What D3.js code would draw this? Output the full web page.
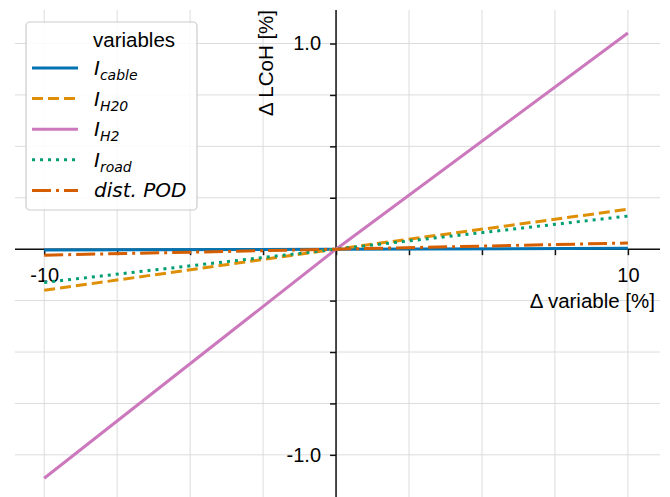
<!DOCTYPE html>
<html>
<head>
<meta charset="utf-8">
<script src="https://cdn.jsdelivr.net/npm/d3@7"></script>
<style>
  body { margin: 0; background: #fff; }
  svg text { font-family: "Liberation Sans", Arial, sans-serif; fill: #000; }
</style>
</head>
<body>
<div id="chart"></div>
<script>
// data
const xValues = [-10, 0, 10];
const seriesNames = ["cable", "H20", "H2", "road", "dist. POD"];
const cableValues = [-0.004, 0, 0.004];
const h20Values = [-0.2, 0, 0.194];
const h2Values = [-1.114, 0, 1.051];
const roadValues = [-0.162, 0, 0.161];
const podValues = [-0.029, 0, 0.03];
const xTicks = [-10, -7.5, -5, -2.5, 0, 2.5, 5, 7.5, 10];
const yTicks = [-1, -0.75, -0.5, -0.25, 0, 0.25, 0.5, 0.75, 1];
const xTickLabels = { "-10": "-10", "10": "10" };
const yTickLabels = { "-1": "-1.0", "1": "1.0" };

const W = 670, H = 497;
const colors = ["#0173b2", "#de8f05", "#cc78bc", "#029e73", "#d55e00"];
const dashes = [null, "11,5", null, "3,5", "19,5,3,5"];
const allValues = [cableValues, h20Values, h2Values, roadValues, podValues];

const svg = d3.select("#chart").append("svg")
  .attr("width", W).attr("height", H);

const x = d3.scaleLinear().domain([-11, 11.1]).range([15, 660]);
const y = d3.scaleLinear().domain([-1.205, 1.163]).range([497, 10]);

// grid
const grid = svg.append("g").attr("stroke", "#dcdcdc").attr("stroke-width", 1);
grid.selectAll("line.v").data(xTicks).enter().append("line")
  .attr("x1", d => x(d)).attr("x2", d => x(d))
  .attr("y1", y.range()[1]).attr("y2", y.range()[0]);
grid.selectAll("line.h").data(yTicks).enter().append("line")
  .attr("y1", d => y(d)).attr("y2", d => y(d))
  .attr("x1", x.range()[0]).attr("x2", x.range()[1]);

// axes through the origin
const xAxis = d3.axisBottom(x).tickValues(xTicks).tickSize(6).tickPadding(8)
  .tickFormat(d => xTickLabels[d] || "");
const yAxis = d3.axisLeft(y).tickValues(yTicks).tickSize(6).tickPadding(9)
  .tickFormat(d => yTickLabels[d] || "");

const xg = svg.append("g").attr("transform", `translate(0,${y(0)})`).call(xAxis);
const yg = svg.append("g").attr("transform", `translate(${x(0)},0)`).call(yAxis);
[xg, yg].forEach(g => {
  g.select(".domain").attr("stroke", "#111").attr("stroke-width", 1.5);
  g.selectAll(".tick line").attr("stroke", "#111").attr("stroke-width", 1.5);
  g.selectAll(".tick text").attr("font-size", 20).attr("font-family", "Liberation Sans, Arial, sans-serif");
});
xg.selectAll(".tick text").attr("dy", "0.95em");
xg.select(".domain").attr("d", `M${x.range()[0]},0H${x.range()[1]}`);
yg.select(".domain").attr("d", `M0,${y.range()[1]}V${y.range()[0]}`);

// lines
const line = d3.line().x((d, i) => x(xValues[i])).y(d => y(d));
svg.append("g").selectAll("path")
  .data(allValues).enter().append("path")
  .attr("d", line)
  .attr("fill", "none")
  .attr("stroke", (d, i) => colors[i])
  .attr("stroke-width", 3)
  .attr("stroke-dasharray", (d, i) => dashes[i]);

// axis labels
svg.append("text")
  .attr("x", 655).attr("y", 308)
  .attr("text-anchor", "end").attr("font-size", 20.5)
  .text("Δ variable [%]");
svg.append("text")
  .attr("transform", "translate(273,10) rotate(-90)")
  .attr("text-anchor", "end").attr("font-size", 20.5)
  .text("Δ LCoH [%]");

// legend
const legend = svg.append("g");
legend.append("rect")
  .attr("x", 26).attr("y", 22).attr("width", 171).attr("height", 188)
  .attr("rx", 4).attr("fill", "#fff").attr("fill-opacity", 0.85)
  .attr("stroke", "#cccccc").attr("stroke-width", 1.2);
legend.append("text")
  .attr("x", 93).attr("y", 47).attr("font-size", 20.5).text("variables");

const items = legend.selectAll("g.item").data(seriesNames).enter().append("g")
  .attr("transform", (d, i) => `translate(0,${68 + i * 30.6})`);
items.append("line")
  .attr("x1", 32).attr("x2", 78)
  .attr("stroke", (d, i) => colors[i])
  .attr("stroke-width", 3)
  .attr("stroke-dasharray", (d, i) => dashes[i]);
items.each(function (d, i) {
  const t = d3.select(this).append("text")
    .attr("x", 94).attr("y", 7).attr("font-size", 20)
    .attr("font-style", "italic")
    .style("font-family", "'DejaVu Sans', sans-serif");
  if (i === 4) {
    t.text(d);
  } else {
    t.append("tspan").text("I");
    t.append("tspan").attr("dy", 5).attr("font-size", 14).text(d);
  }
});
</script>
</body>
</html>
